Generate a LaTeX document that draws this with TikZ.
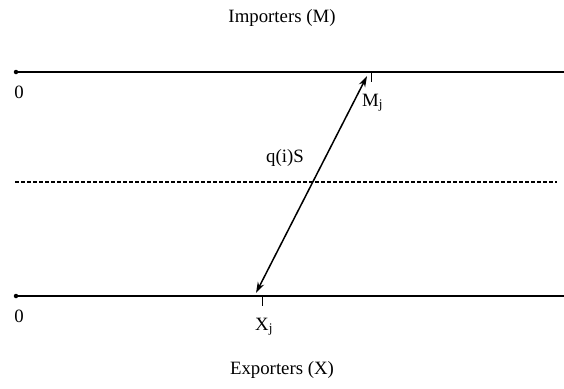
\documentclass[tikz,border=0pt]{standalone}
\usepackage{fontspec}
\setmainfont{Liberation Serif}
\usetikzlibrary{arrows.meta}
\tikzset{
  axis/.style={line width=1.9pt},
  midline/.style={line width=1.2pt, dash pattern=on 4pt off 2pt},
  tickmark/.style={line width=0.8pt},
  flow/.style={line width=1.5pt, {Stealth[length=11pt,width=7pt]}-{Stealth[length=11pt,width=7pt]}},
  lbl/.style={font=\fontsize{18.8}{22}\selectfont, inner sep=0pt},
  enddot/.style={circle, fill, inner sep=0pt, minimum size=4.5pt}
}
\begin{document}
\begin{tikzpicture}[x=1pt,y=-1pt]
\useasboundingbox (0,0) rectangle (564,388);
% endpoints
\node[enddot] (tl) at (16,72) {};
\coordinate (tr) at (565,72);
\node[enddot] (bl) at (16,296) {};
\coordinate (br) at (565,296);
\coordinate (dl) at (15,182);
\coordinate (dr) at (557,182);
% lines
\draw[axis] (tl.center) -- (tr);
\draw[axis] (bl.center) -- (br);
\draw[midline] (dl) -- (dr);
% ticks
\coordinate (mt) at (371,72);
\coordinate (mb) at (371,82);
\coordinate (xt) at (262,296);
\coordinate (xb) at (262,306);
\draw[tickmark] (mt) -- (mb);
\draw[tickmark] (xt) -- (xb);
% arrow
\coordinate (xj) at (256,293);
\coordinate (mj) at (367,76);
\draw[flow] (xj) -- (mj);
% labels
\node[lbl] (imp) at (282,18) {Importers (M)};
\node[lbl] (exp) at (282,370) {Exporters (X)};
\node[lbl] (z1) at (19,92) {0};
\node[lbl] (z2) at (19,316) {0};
\node[lbl, anchor=base west] (mlab) at (362,106) {M\textsubscript{j}};
\node[lbl, anchor=base west] (xlab) at (255,330) {X\textsubscript{j}};
\node[lbl] (q) at (285,158) {q(i)S};
\end{tikzpicture}
\end{document}
